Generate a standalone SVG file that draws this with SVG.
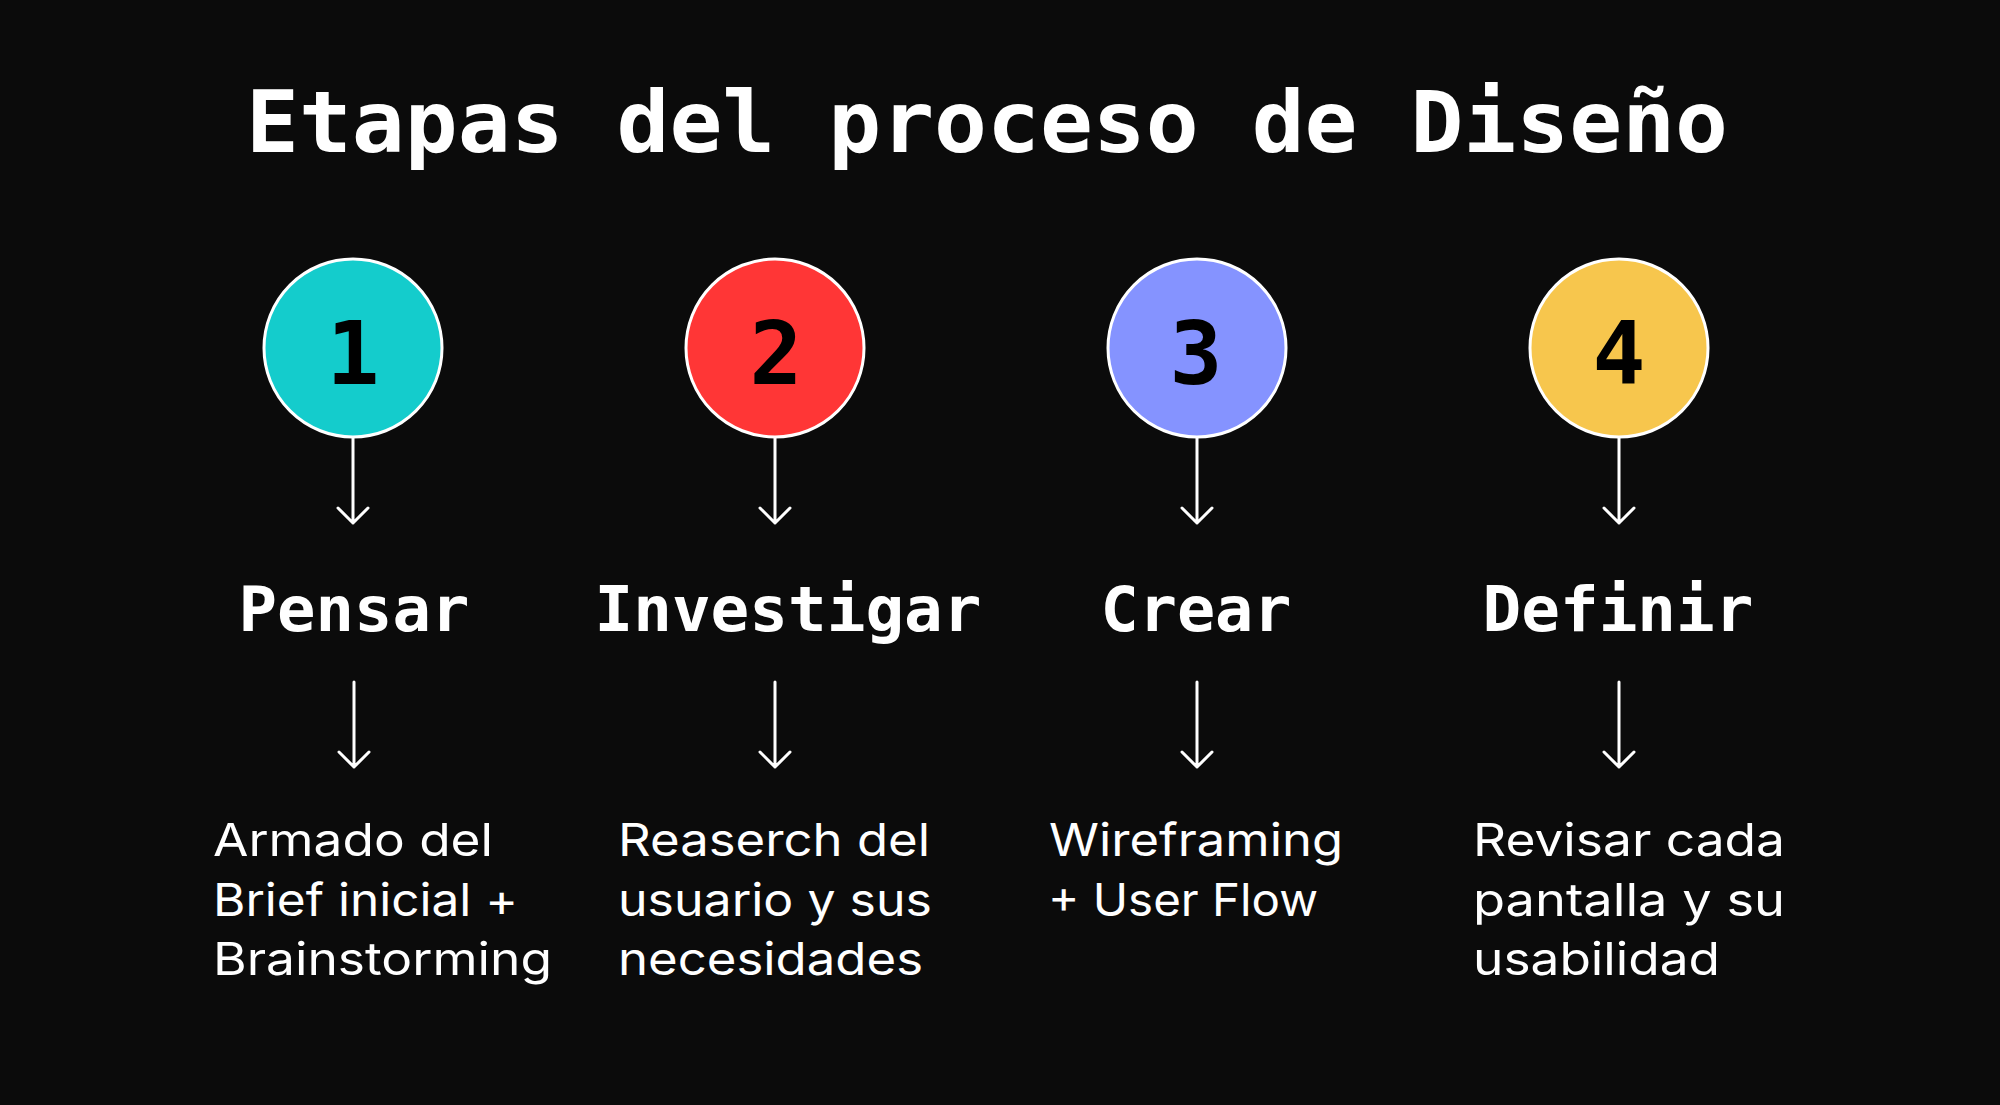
<svg xmlns="http://www.w3.org/2000/svg" width="2000" height="1105" viewBox="0 0 2000 1105">
<style>
.title{font-family:"DejaVu Sans Mono","Liberation Mono",monospace;font-weight:bold;font-size:85px;fill:#ffffff}
.num{font-family:"DejaVu Sans Mono","Liberation Mono",monospace;font-weight:bold;font-size:88px;fill:#000000;text-anchor:middle}
.lbl{font-family:"DejaVu Sans Mono","Liberation Mono",monospace;font-weight:bold;font-size:62px;fill:#ffffff;text-anchor:middle}
.desc{font-family:Inter,"Liberation Sans",sans-serif;font-weight:400;font-size:45px;fill:#ffffff}
.ring{stroke:#ffffff;stroke-width:3}
.arr{stroke:#ffffff;stroke-width:3;fill:none;stroke-linecap:round;stroke-linejoin:round}
</style>
<rect width="2000" height="1105" fill="#0b0b0b"/>
<text class="title" x="246" y="152" textLength="1482" lengthAdjust="spacingAndGlyphs">Etapas del proceso de Diseño</text>

<g id="connectors">
<path class="arr" d="M353 437V523M338 508L353 523L368 508"/>
<path class="arr" d="M354 682V767M339 752L354 767L369 752"/>
<path class="arr" d="M775 437V523M760 508L775 523L790 508"/>
<path class="arr" d="M775 682V767M760 752L775 767L790 752"/>
<path class="arr" d="M1197 437V523M1182 508L1197 523L1212 508"/>
<path class="arr" d="M1197 682V767M1182 752L1197 767L1212 752"/>
<path class="arr" d="M1619 437V523M1604 508L1619 523L1634 508"/>
<path class="arr" d="M1619 682V767M1604 752L1619 767L1634 752"/>
</g>

<g id="step1">
<circle class="ring" cx="353" cy="348" r="89" fill="#14cccc"/>
<text class="num" x="353" y="384">1</text>
<text class="lbl" x="354" y="631" textLength="231" lengthAdjust="spacingAndGlyphs">Pensar</text>
<text class="desc" x="213" y="856" textLength="280" lengthAdjust="spacingAndGlyphs">Armado del</text>
<text class="desc" x="213" y="916" textLength="305" lengthAdjust="spacingAndGlyphs">Brief inicial +</text>
<text class="desc" x="213" y="975" textLength="339" lengthAdjust="spacingAndGlyphs">Brainstorming</text>
</g>

<g id="step2">
<circle class="ring" cx="775" cy="348" r="89" fill="#ff3636"/>
<text class="num" x="776" y="384">2</text>
<text class="lbl" x="788" y="631" textLength="387" lengthAdjust="spacingAndGlyphs">Investigar</text>
<text class="desc" x="618" y="856" textLength="312" lengthAdjust="spacingAndGlyphs">Reaserch del</text>
<text class="desc" x="618" y="916" textLength="314" lengthAdjust="spacingAndGlyphs">usuario y sus</text>
<text class="desc" x="618" y="975" textLength="305" lengthAdjust="spacingAndGlyphs">necesidades</text>
</g>

<g id="step3">
<circle class="ring" cx="1197" cy="348" r="89" fill="#8593ff"/>
<text class="num" x="1196" y="384">3</text>
<text class="lbl" x="1196" y="631" textLength="191" lengthAdjust="spacingAndGlyphs">Crear</text>
<text class="desc" x="1049" y="856" textLength="294" lengthAdjust="spacingAndGlyphs">Wireframing</text>
<text class="desc" x="1048" y="916" textLength="270" lengthAdjust="spacingAndGlyphs">+ User Flow</text>
</g>

<g id="step4">
<circle class="ring" cx="1619" cy="348" r="89" fill="#f7c64d"/>
<text class="num" x="1619" y="384">4</text>
<text class="lbl" x="1618" y="631" textLength="271" lengthAdjust="spacingAndGlyphs">Definir</text>
<text class="desc" x="1473" y="856" textLength="312" lengthAdjust="spacingAndGlyphs">Revisar cada</text>
<text class="desc" x="1473" y="916" textLength="312" lengthAdjust="spacingAndGlyphs">pantalla y su</text>
<text class="desc" x="1473" y="975" textLength="247" lengthAdjust="spacingAndGlyphs">usabilidad</text>
</g>
</svg>
